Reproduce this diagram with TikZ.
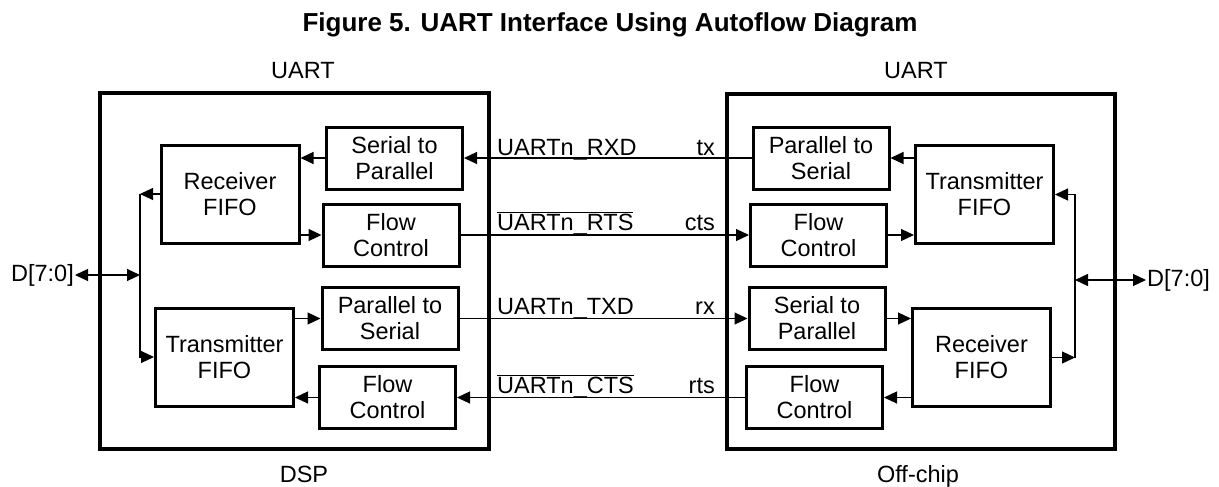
\documentclass[tikz,border=0pt]{standalone}
\usepackage{fontspec}
\setmainfont{Liberation Sans}
\usetikzlibrary{arrows.meta,positioning,calc}
\tikzstyle{l1}=[line width=1.2pt]
\tikzstyle{chip}=[draw, line width=3.4pt, inner sep=0pt]
\tikzstyle{blk}=[draw, line width=3pt, minimum width=136pt, minimum height=62pt, inner sep=0pt, align=center]
\tikzstyle{fifo}=[blk, minimum width=138pt, minimum height=98pt]
\tikzstyle{wire}=[l1, -{Triangle[length=13pt,width=12pt]}]
\tikzstyle{bus}=[l1, {Triangle[length=13pt,width=12pt]}-{Triangle[length=13pt,width=12pt]}]
\tikzstyle{sig}=[anchor=base west, inner sep=0pt]
\tikzstyle{pin}=[anchor=base east, inner sep=0pt]
\newcommand{\nbar}[1]{$\overline{\mbox{#1}}$}

\begin{document}
\begin{tikzpicture}[x=1pt, y=-1pt, font=\fontsize{23.5}{26}\selectfont]

    \useasboundingbox (0,0) rectangle (1219,487);

    \node[anchor=base, font=\fontsize{26}{28}\selectfont\bfseries] (title) at (610,32) {Figure 5. UART Interface Using Autoflow Diagram};

    % the two chips
    \node[chip, minimum width=389pt, minimum height=356pt] (dsp) at (294.5,271) {};
    \node[chip, minimum width=388pt, minimum height=355pt] (off) at (921,271.5) {};
    \node[anchor=base] (uartL) at (303,78) {UART};
    \node[anchor=base] (uartR) at (916,78) {UART};
    \node[anchor=base] (dspLbl) at (304,482) {DSP};
    \node[anchor=base] (offLbl) at (918,482) {Off-chip};

    % DSP side
    \node[fifo] (rxL) at (230,194) {Receiver\\FIFO};
    \node[fifo] (txL) at (224.5,357) {Transmitter\\FIFO};
    \node[blk] (s2pL) at (394.5,158) {Serial to\\Parallel};
    \node[blk] (fcL1) at (391,235) {Flow\\Control};
    \node[blk] (p2sL) at (390,318.5) {Parallel to\\Serial};
    \node[blk] (fcL2) at (387.5,397.5) {Flow\\Control};

    % off-chip side
    \node[fifo] (txR) at (984.5,194.5) {Transmitter\\FIFO};
    \node[fifo] (rxR) at (981.5,357.5) {Receiver\\FIFO};
    \node[blk] (p2sR) at (821,158) {Parallel to\\Serial};
    \node[blk] (fcR1) at (818.5,235) {Flow\\Control};
    \node[blk] (s2pR) at (817,318.5) {Serial to\\Parallel};
    \node[blk] (fcR2) at (814.5,397.5) {Flow\\Control};

    % data buses
    \coordinate (busL) at (140,275);
    \coordinate (busR) at (1075,280);
    \node (dL) [left=65pt of busL, inner sep=1pt] {D[7:0]};
    \node (dR) [right=71pt of busR, inner sep=1pt] {D[7:0]};

    \draw[wire] (rxL.west) -- (rxL.west -| busL);
    \draw[wire] (rxL.west -| busL) -- (txL.west -| busL) -- (txL.west);
    \draw[bus] (dL.east) -- (busL);
    \draw[wire] (rxR.east) -- (rxR.east -| busR);
    \draw[wire] (rxR.east -| busR) -- (txR.east -| busR) -- (txR.east);
    \draw[bus] (busR) -- (dR.west);

    % inside the chips
    \draw[wire] (s2pL.west) -- (s2pL.west -| rxL.east);
    \draw[wire] (rxL.east |- fcL1.west) -- (fcL1.west);
    \draw[wire] (txL.east |- p2sL.west) -- (p2sL.west);
    \draw[wire] (fcL2.west) -- (fcL2.west -| txL.east);
    \draw[wire] (txR.west |- p2sR.east) -- (p2sR.east);
    \draw[wire] (fcR1.east) -- (fcR1.east -| txR.west);
    \draw[wire] (s2pR.east) -- (s2pR.east -| rxR.west);
    \draw[wire] (rxR.west |- fcR2.east) -- (fcR2.east);

    % serial lines
    \draw[wire] (p2sR) -- (s2pL);
    \draw[wire] (fcL1) -- (fcR1);
    \draw[wire] (p2sL) -- (s2pR);
    \draw[wire] (fcR2) -- (fcL2);

    \node[sig] (rxd) at (497,155) {UARTn\_RXD};
    \node[sig] (rts) at (497,230) {\nbar{UARTn\_RTS}};
    \node[sig] (txd) at (497,314) {UARTn\_TXD};
    \node[sig] (cts) at (497,393) {\nbar{UARTn\_CTS}};
    \node[pin] (tx) at (715,155) {tx};
    \node[pin] (cts2) at (715,230) {cts};
    \node[pin] (rx) at (715,314) {rx};
    \node[pin] (rts2) at (715,393) {rts};

\end{tikzpicture}
\end{document}
